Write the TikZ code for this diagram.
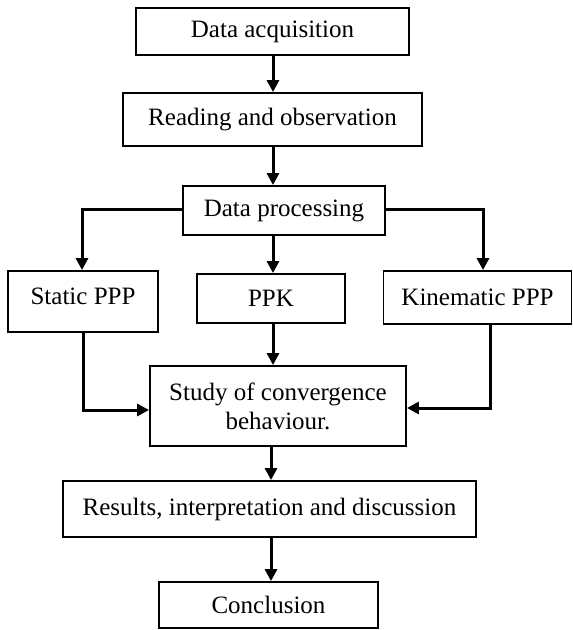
\documentclass[tikz,border=0pt]{standalone}
\usepackage{fontspec}
\setmainfont{Liberation Serif}
\usetikzlibrary{arrows.meta}
\begin{document}
\begin{tikzpicture}[x=1pt,y=-1pt,
  box/.style={draw=black,line width=1.9pt,rectangle,inner sep=0pt,align=center,
    font=\fontsize{25}{29}\selectfont},
  conn/.style={line width=3pt,-{Triangle[length=12pt,width=12pt]}}]
\useasboundingbox (0,0) rectangle (573,630);
\node[box,minimum width=273pt,minimum height=47pt] (acq) at (272.5,31.5) {Data acquisition};
\node[box,minimum width=299pt,minimum height=53pt] (read) at (272.5,119.5) {Reading and observation};
\node[box,minimum width=202pt,minimum height=49pt] (proc) at (284,210.5) {Data processing};
\node[box,minimum width=150pt,minimum height=61pt,text depth=10pt] (stat) at (83,301.5) {Static PPP};
\node[box,minimum width=148pt,minimum height=49pt] (ppk) at (271,298.5) {PPK};
\node[box,minimum width=188pt,minimum height=53pt] (kin) at (477.5,297.5) {Kinematic PPP};
\node[box,minimum width=256pt,minimum height=80pt] (study) at (278,406) {Study of convergence\\behaviour.};
\node[box,minimum width=413pt,minimum height=56pt] (res) at (269.5,509) {Results, interpretation and discussion};
\node[box,minimum width=219pt,minimum height=46pt] (conc) at (268.5,605) {Conclusion};
\coordinate (ax) at (273,0);
\coordinate (bx) at (271,0);
\coordinate (lx) at (82,209);
\coordinate (rx) at (483,209);
\coordinate (sl) at (83,410);
\coordinate (kr) at (490,408);
\draw[conn] (acq.south -| ax) -- (read.north -| ax);
\draw[conn] (read.south -| ax) -- (proc.north -| ax);
\draw[conn] (proc.south -| ax) -- (ppk.north -| ax);
\draw[conn] (ppk.south -| ax) -- (study.north -| ax);
\draw[conn] (proc.west |- lx) -- (lx) -- (stat.north -| lx);
\draw[conn] (proc.east |- rx) -- (rx) -- (kin.north -| rx);
\draw[conn] (stat.south -| sl) -- (sl) -- (study.west |- sl);
\draw[conn] (kin.south -| kr) -- (kr) -- (study.east |- kr);
\draw[conn] (study.south -| bx) -- (res.north -| bx);
\draw[conn] (res.south -| bx) -- (conc.north -| bx);
\end{tikzpicture}
\end{document}
